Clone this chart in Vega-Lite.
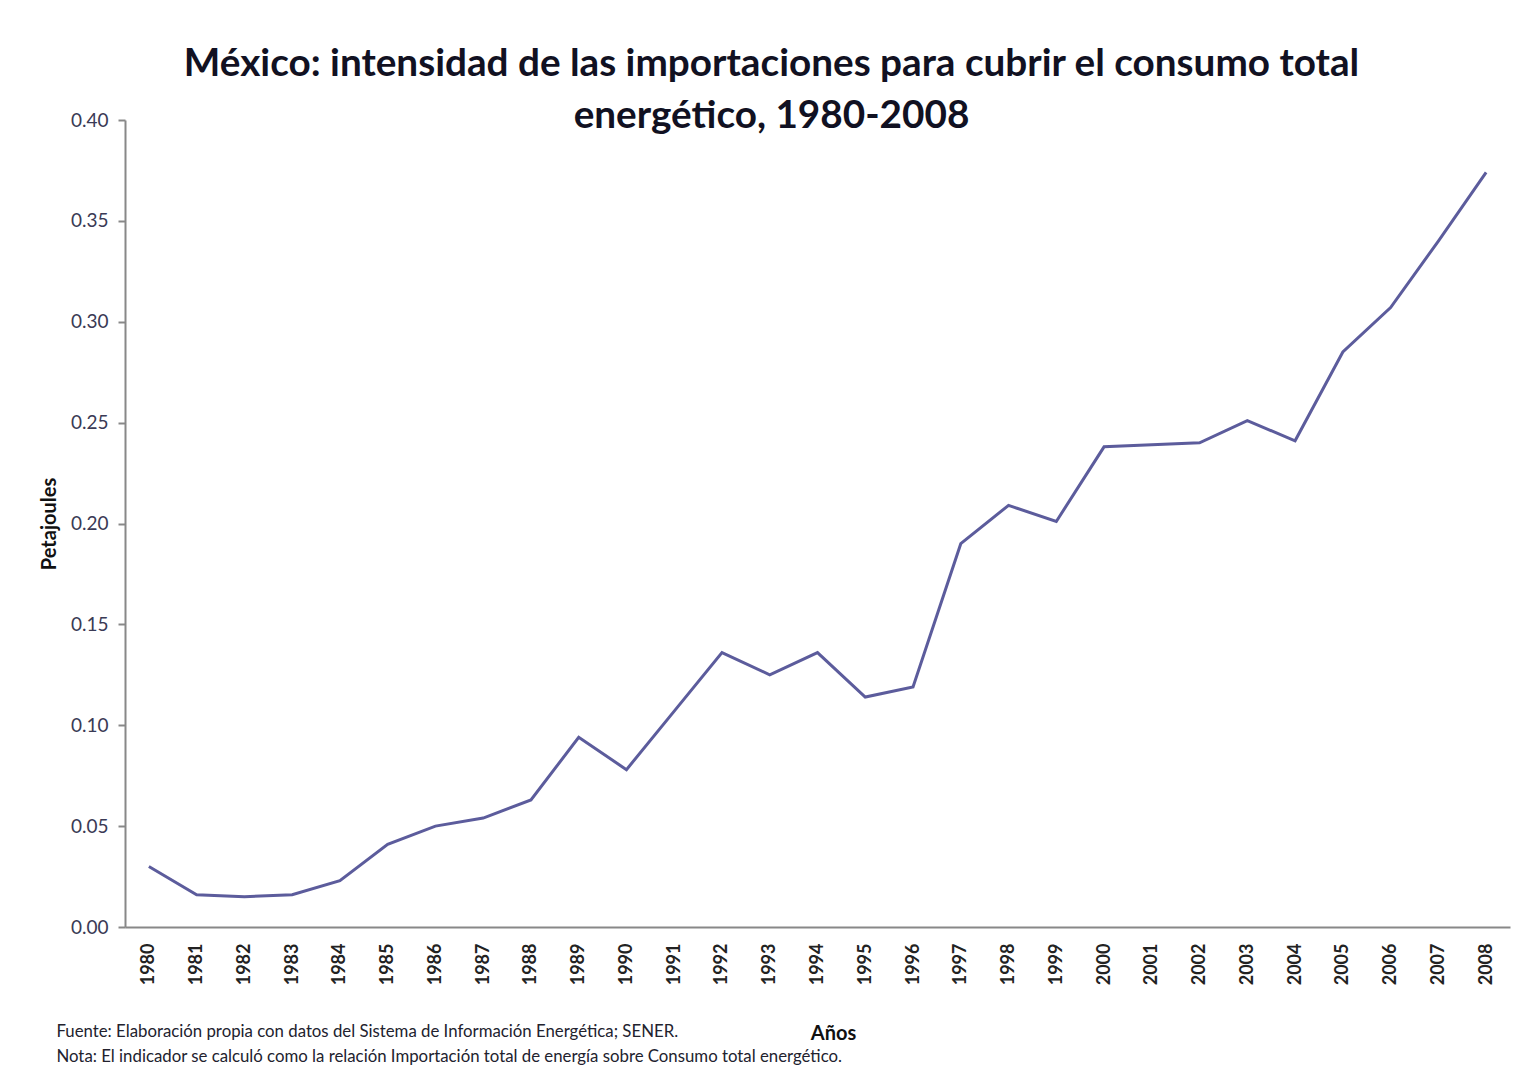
{
  "$schema": "https://vega.github.io/schema/vega-lite/v6.json",
  "background": "white",
  "padding": {"left": 39, "top": 45, "right": 13, "bottom": 10},
  "config": {"view": {"stroke": null}, "font": "Lato"},
  "title": {
    "text": ["Fuente: Elaboración propia con datos del Sistema de Información Energética; SENER.", "Nota: El indicador se calculó como la relación Importación total de energía sobre Consumo total energético."],
    "orient": "bottom", "anchor": "start", "frame": "bounds",
    "font": "Lato", "fontSize": 16.8, "fontWeight": "normal", "color": "#22222e",
    "lineHeight": 25, "offset": -20, "dx": 17
  },
  "vconcat": [{
    "width": 1385,
    "height": 807,
    "title": {
      "text": ["México: intensidad de las importaciones para cubrir el consumo total", "energético, 1980-2008"],
      "font": "Lato", "fontSize": 38.7, "fontWeight": "bold", "color": "#111122",
      "lineHeight": 52, "anchor": "middle", "frame": "group", "dx": -46, "offset": -25
    },
    "data": {"values": [
      {"anio": "1980", "valor": 0.030},
      {"anio": "1981", "valor": 0.016},
      {"anio": "1982", "valor": 0.015},
      {"anio": "1983", "valor": 0.016},
      {"anio": "1984", "valor": 0.023},
      {"anio": "1985", "valor": 0.041},
      {"anio": "1986", "valor": 0.050},
      {"anio": "1987", "valor": 0.054},
      {"anio": "1988", "valor": 0.063},
      {"anio": "1989", "valor": 0.094},
      {"anio": "1990", "valor": 0.078},
      {"anio": "1991", "valor": 0.107},
      {"anio": "1992", "valor": 0.136},
      {"anio": "1993", "valor": 0.125},
      {"anio": "1994", "valor": 0.136},
      {"anio": "1995", "valor": 0.114},
      {"anio": "1996", "valor": 0.119},
      {"anio": "1997", "valor": 0.190},
      {"anio": "1998", "valor": 0.209},
      {"anio": "1999", "valor": 0.201},
      {"anio": "2000", "valor": 0.238},
      {"anio": "2001", "valor": 0.239},
      {"anio": "2002", "valor": 0.240},
      {"anio": "2003", "valor": 0.251},
      {"anio": "2004", "valor": 0.241},
      {"anio": "2005", "valor": 0.285},
      {"anio": "2006", "valor": 0.307},
      {"anio": "2007", "valor": 0.340},
      {"anio": "2008", "valor": 0.374}
    ]},
    "mark": {"type": "line", "color": "#5c5c9c", "strokeWidth": 3},
    "encoding": {
      "x": {
        "field": "anio", "type": "ordinal",
        "scale": {"type": "point", "padding": 0.5},
        "axis": {
          "title": "Años", "titleFont": "Lato", "titleFontSize": 20, "titleFontWeight": "bold", "titleColor": "#111",
          "titlePadding": 39, "titleX": 708,
          "labelAngle": -90, "labelFont": "Lato", "labelFontSize": 18, "labelFontWeight": "bold", "labelColor": "#222",
          "labelPadding": 16, "ticks": false, "domainColor": "#888", "domainWidth": 2, "grid": false
        }
      },
      "y": {
        "field": "valor", "type": "quantitative",
        "scale": {"domain": [0, 0.4], "nice": false},
        "axis": {
          "title": "Petajoules", "titleFont": "Lato", "titleFontSize": 20, "titleFontWeight": "bold", "titleColor": "#111",
          "titlePadding": 11,
          "values": [0, 0.05, 0.1, 0.15, 0.2, 0.25, 0.3, 0.35, 0.4], "format": ".2f",
          "labelFont": "Lato", "labelFontSize": 19, "labelColor": "#3a3a55", "labelPadding": 10,
          "tickSize": 7, "tickColor": "#888", "tickWidth": 2, "domainColor": "#888", "domainWidth": 2, "grid": false
        }
      }
    }
  }]
}
